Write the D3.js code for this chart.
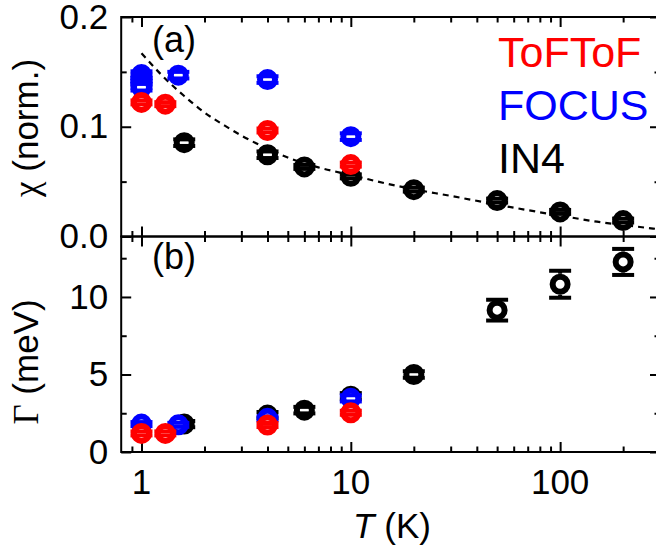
<!DOCTYPE html>
<html>
<head>
<meta charset="utf-8">
<script src="https://cdn.jsdelivr.net/npm/d3@7"></script>
<style>
  body { margin: 0; background: #fff; }
  svg { display: block; }
  text { font-family: Arial, "Liberation Sans", sans-serif; fill: #000; }
</style>
</head>
<body>
<svg id="chart" width="656" height="547"></svg>
<script>
// ---- data ----
// IN4
const in4ChiT   = [1.6, 4, 6, 10, 20, 50, 100, 200];
const in4Chi    = [0.0855, 0.0745, 0.0634, 0.0548, 0.0427, 0.0327, 0.0224, 0.0145];
const in4ChiErr = [0.003, 0.003, 0.0018, 0.0018, 0.0018, 0.0018, 0.0018, 0.0018];
const in4GamT   = [1.6, 4, 6, 10, 20, 50, 100, 200];
const in4Gam    = [1.8, 2.38, 2.7, 3.6, 5.0, 9.15, 10.82, 12.26];
const in4GamErr = [0.2, 0.2, 0.21, 0.2, 0.21, 0.67, 0.87, 0.84];
// FOCUS
const focusChiT   = [1, 1, 1, 1, 1, 1.5, 4, 10];
const focusChi    = [0.1475, 0.1445, 0.1415, 0.1385, 0.136, 0.147, 0.143, 0.091];
const focusChiErr = [0.003, 0.003, 0.003, 0.003, 0.003, 0.003, 0.003, 0.003];
const focusGamT   = [1, 1.5, 4, 10];
const focusGam    = [1.8, 1.75, 2.17, 3.46];
const focusGamErr = [0.13, 0.13, 0.13, 0.2];
// ToFToF
const tofChiT   = [1, 1.3, 4, 10];
const tofChi    = [0.1222, 0.1206, 0.0966, 0.0655];
const tofChiErr = [0.0018, 0.0018, 0.0018, 0.0018];
const tofGamT   = [1, 1.3, 4, 10];
const tofGam    = [1.2, 1.2, 1.74, 2.53];
const tofGamErr = [0.13, 0.13, 0.13, 0.13];
// dashed fit curve through chi(T)
const fitT   = [1, 1.25, 1.6, 2, 2.5, 3, 4, 5, 7, 10, 15, 20, 30, 50, 70, 100, 150, 200, 300];
const fitChi = [0.167, 0.147, 0.128, 0.113, 0.101, 0.092, 0.080, 0.072, 0.063, 0.056, 0.048, 0.043, 0.037, 0.029, 0.024, 0.019, 0.0135, 0.0105, 0.0065];

// ticks
const xMajor = [1, 10, 100];
const xMajorLabels = ["1", "10", "100"];
const xMinor = [0.9, 2, 3, 4, 5, 6, 7, 8, 9, 20, 30, 40, 50, 60, 70, 80, 90, 200, 300];
const chiMajor = [0, 0.1, 0.2];
const chiMajorLabels = ["0.0", "0.1", "0.2"];
const chiMinor = [0.05, 0.15];
const gamMajor = [0, 5, 10];
const gamMajorLabels = ["0", "5", "10"];
const gamMinor = [2.5, 7.5, 12.5];

const legendNames  = ["ToFToF", "FOCUS", "IN4"];
const legendColors = ["#ff0000", "#0000ff", "#000000"];

// ---- layout ----
const svg = d3.select("#chart");
const x = d3.scaleLog().domain([0.8, 300]).range([121.2, 660]);
const yChi = d3.scaleLinear().domain([0, 0.2]).range([236.5, 17]);
const yGam = d3.scaleLinear().domain([0, 13.9]).range([452, 236.5]);

const MAJ = 10, MIN = 5.5, LW = 2;

function frame(y) {
  const [y0, y1] = y.range();
  const [x0, x1] = x.range();
  const g = svg.append("g");
  const addAxis = (axis, tx, ty) => {
    const a = g.append("g").attr("transform", `translate(${tx},${ty})`).call(axis);
    a.select(".domain").remove();
    a.selectAll("line").attr("stroke-width", LW);
    return a;
  };
  // bottom / top (ticks pointing inward)
  addAxis(d3.axisBottom(x).tickValues(xMajor).tickSize(-MAJ).tickFormat(""), 0, y0);
  addAxis(d3.axisBottom(x).tickValues(xMinor).tickSize(-MIN).tickFormat(""), 0, y0);
  addAxis(d3.axisTop(x).tickValues(xMajor).tickSize(-MAJ).tickFormat(""), 0, y1);
  addAxis(d3.axisTop(x).tickValues(xMinor).tickSize(-MIN).tickFormat(""), 0, y1);
  g.append("rect").attr("x", x0).attr("y", y1).attr("width", x1 - x0).attr("height", y0 - y1)
    .attr("fill", "none").attr("stroke", "#000").attr("stroke-width", LW);
  return g;
}

function yTicks(y, major, labels, minor) {
  const g = svg.append("g");
  const [x0, x1] = x.range();
  const add = (axis, tx) => {
    const a = g.append("g").attr("transform", `translate(${tx},0)`).call(axis);
    a.select(".domain").remove();
    a.selectAll("line").attr("stroke-width", LW);
    return a;
  };
  const left = add(d3.axisLeft(y).tickValues(major).tickSize(-MAJ).tickPadding(13)
    .tickFormat((d, i) => labels[i]), x0);
  left.selectAll("text").attr("font-size", 35).attr("fill", "#000")
    .style("font-family", "Arial, 'Liberation Sans', sans-serif");
  add(d3.axisLeft(y).tickValues(minor).tickSize(-MIN).tickFormat(""), x0);
  add(d3.axisRight(y).tickValues(major).tickSize(-MAJ).tickFormat(""), x1);
  add(d3.axisRight(y).tickValues(minor).tickSize(-MIN).tickFormat(""), x1);
}

// open circle symbol with error bar (caps drawn over the symbol)
const R = 7.5, SW = 6, CAP = 11;
function series(ts, vs, es, y, color) {
  const g = svg.append("g");
  ts.forEach((t, i) => {
    const cx = x(t), cy = y(vs[i]);
    const top = y(vs[i] + es[i]), bot = y(vs[i] - es[i]);
    const rOut = R + SW / 2;
    if (cy - top > rOut) g.append("line").attr("x1", cx).attr("x2", cx).attr("y1", top).attr("y2", cy - rOut)
      .attr("stroke", color).attr("stroke-width", 4);
    if (bot - cy > rOut) g.append("line").attr("x1", cx).attr("x2", cx).attr("y1", cy + rOut).attr("y2", bot)
      .attr("stroke", color).attr("stroke-width", 4);
    g.append("circle").attr("cx", cx).attr("cy", cy).attr("r", R)
      .attr("fill", "#fff").attr("stroke", color).attr("stroke-width", SW);
    [top, bot].forEach(yy => g.append("line")
      .attr("x1", cx - CAP).attr("x2", cx + CAP).attr("y1", yy).attr("y2", yy)
      .attr("stroke", color).attr("stroke-width", 4));
  });
}

// ---- panel (a): chi ----
frame(yChi);
yTicks(yChi, chiMajor, chiMajorLabels, chiMinor);
svg.append("path")
  .datum(fitT.map((t, i) => [t, fitChi[i]]))
  .attr("d", d3.line().x(d => x(d[0])).y(d => yChi(d[1])).curve(d3.curveMonotoneX))
  .attr("fill", "none").attr("stroke", "#000").attr("stroke-width", 2.2)
  .attr("stroke-dasharray", "6,5");
series(in4ChiT, in4Chi, in4ChiErr, yChi, "#000000");
series(focusChiT, focusChi, focusChiErr, yChi, "#0000ff");
series(tofChiT, tofChi, tofChiErr, yChi, "#ff0000");

// ---- panel (b): Gamma ----
frame(yGam);
yTicks(yGam, gamMajor, gamMajorLabels, gamMinor);
series(in4GamT, in4Gam, in4GamErr, yGam, "#000000");
series(focusGamT, focusGam, focusGamErr, yGam, "#0000ff");
series(tofGamT, tofGam, tofGamErr, yGam, "#ff0000");

// x tick labels
svg.append("g").selectAll("text").data(xMajor).join("text")
  .attr("x", d => x(d)).attr("y", 494).attr("text-anchor", "middle")
  .attr("font-size", 35).text((d, i) => xMajorLabels[i]);

// panel tags
svg.append("text").attr("x", 152).attr("y", 52).attr("font-size", 36).text("(a)");
svg.append("text").attr("x", 152).attr("y", 269).attr("font-size", 36).text("(b)");

// legend
svg.append("g").selectAll("text").data(legendNames).join("text")
  .attr("x", 498).attr("y", (d, i) => 67 + i * 53)
  .attr("font-size", 43).attr("fill", (d, i) => legendColors[i])
  .style("fill", (d, i) => legendColors[i]).text(d => d);

// axis titles
const xt = svg.append("text").attr("x", 392).attr("y", 538).attr("text-anchor", "middle").attr("font-size", 35);
xt.append("tspan").attr("font-style", "italic").text("T");
xt.append("tspan").text(" (K)");

const yt1 = svg.append("text").attr("transform", "translate(38,128) rotate(-90)")
  .attr("text-anchor", "middle").attr("font-size", 35);
yt1.append("tspan").style("font-family", "'Liberation Serif', 'Times New Roman', serif").text("χ");
yt1.append("tspan").text(" (norm.)");

const yt2 = svg.append("text").attr("transform", "translate(38,362) rotate(-90)")
  .attr("text-anchor", "middle").attr("font-size", 35);
yt2.append("tspan").style("font-family", "'Liberation Serif', 'Times New Roman', serif").text("Γ");
yt2.append("tspan").text(" (meV)");
</script>
</body>
</html>
